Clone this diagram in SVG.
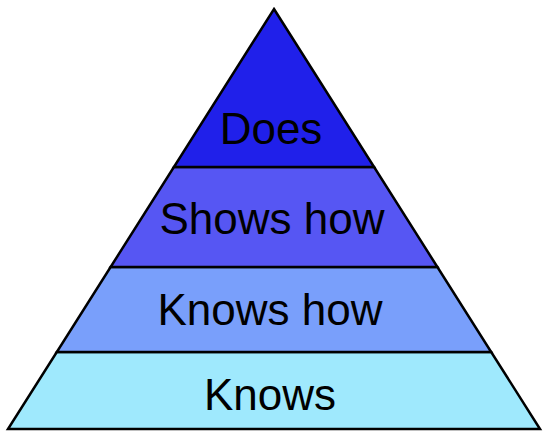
<svg xmlns="http://www.w3.org/2000/svg" width="546" height="443" viewBox="0 0 546 443">
<style>
.tier{stroke:#000;stroke-width:2.5;stroke-linejoin:miter}
.lbl{font-family:"Liberation Sans",Arial,sans-serif;font-size:44px;fill:#000;text-anchor:middle}
</style>
<rect width="546" height="443" fill="#fff"/>
<g id="knows">
<polygon class="tier" fill="#9fe9fd" points="56.8,352 491.2,352 540,429 8,429"/>
<text class="lbl" x="270" y="410">Knows</text>
</g>
<g id="knows-how">
<polygon class="tier" fill="#799ffb" points="110.6,267 437.4,267 491.2,352 56.8,352"/>
<text class="lbl" x="270" y="325">Knows how</text>
</g>
<g id="shows-how">
<polygon class="tier" fill="#5656f3" points="173.9,167 374.1,167 437.4,267 110.6,267"/>
<text class="lbl" x="272" y="234">Shows how</text>
</g>
<g id="does">
<polygon class="tier" fill="#2020ea" points="274,9 374.1,167 173.9,167"/>
<text class="lbl" x="271" y="144">Does</text>
</g>
</svg>
